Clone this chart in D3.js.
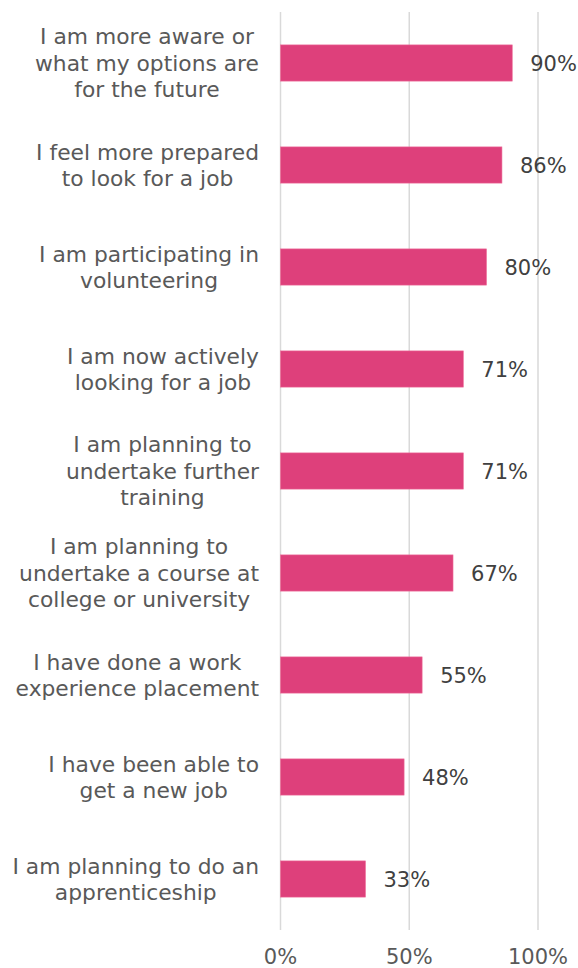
<!DOCTYPE html>
<html>
<head>
<meta charset="utf-8">
<script src="https://cdn.jsdelivr.net/npm/d3@7"></script>
<style>
  html, body { margin: 0; padding: 0; background: #fff; }
  svg { display: block; }
</style>
</head>
<body>
<svg id="chart" width="578" height="968"></svg>
<script>
// Survey statements (each split into its wrapped lines) and share agreeing
const categories = [
  ["I am more aware or", "what my options are", "for the future"],
  ["I feel more prepared", "to look for a job"],
  ["I am participating in", "volunteering"],
  ["I am now actively", "looking for a job"],
  ["I am planning to", "undertake further", "training"],
  ["I am planning to", "undertake a course at", "college or university"],
  ["I have done a work", "experience placement"],
  ["I have been able to", "get a new job"],
  ["I am planning to do an", "apprenticeship"]
];
const values = [90, 86, 80, 71, 71, 67, 55, 48, 33];
const tickValues = [0, 50, 100];
const tickLabels = ["0%", "50%", "100%"];

const svg = d3.select("#chart");
const font = "'DejaVu Sans', Verdana, sans-serif";

const plot = { left: 280.5, right: 538, top: 12, bottom: 930 };

const x = d3.scaleLinear().domain([0, 100]).range([plot.left, plot.right]);
const y = d3.scaleBand()
  .domain(d3.range(categories.length))
  .range([plot.top, plot.bottom])
  .paddingInner(0.645)
  .paddingOuter(0.3225);

// vertical gridlines
svg.append("g")
  .selectAll("line")
  .data(tickValues)
  .join("line")
  .attr("x1", d => x(d)).attr("x2", d => x(d))
  .attr("y1", plot.top).attr("y2", plot.bottom)
  .attr("stroke", "#d9d9d9")
  .attr("stroke-width", 1.5);

// bars
svg.append("g")
  .selectAll("rect")
  .data(values)
  .join("rect")
  .attr("x", x(0))
  .attr("y", (d, i) => y(i))
  .attr("width", d => x(d) - x(0))
  .attr("height", y.bandwidth())
  .attr("fill", "#de407b")
  .attr("stroke", "#ee6f9a")
  .attr("stroke-width", 0.6);

// value labels
svg.append("g")
  .selectAll("text")
  .data(values)
  .join("text")
  .attr("x", d => x(d) + 18)
  .attr("y", (d, i) => y(i) + y.bandwidth() / 2)
  .attr("dy", "0.36em")
  .attr("font-family", font)
  .attr("font-size", 21)
  .attr("fill", "#404040")
  .text(d => d + "%");

// x-axis tick labels
svg.append("g")
  .selectAll("text")
  .data(tickValues)
  .join("text")
  .attr("x", d => x(d))
  .attr("y", 964)
  .attr("text-anchor", "middle")
  .attr("font-family", font)
  .attr("font-size", 21)
  .attr("fill", "#595959")
  .text((d, i) => tickLabels[i]);

// category labels: block right-aligned to the axis, lines centred within block
const lineH = 26.5;
const labelRight = 259;
const catG = svg.append("g");
categories.forEach((lines, i) => {
  const g = catG.append("g");
  const cy = y(i) + y.bandwidth() / 2;
  const texts = lines.map((s, k) =>
    g.append("text")
      .attr("y", cy + (k - (lines.length - 1) / 2) * lineH)
      .attr("dy", "0.36em")
      .attr("text-anchor", "middle")
      .attr("font-family", font)
      .attr("font-size", 21.8)
      .attr("fill", "#595959")
      .text(s)
  );
  const maxW = d3.max(texts, t => t.node().getComputedTextLength());
  texts.forEach(t => t.attr("x", labelRight - maxW / 2));
});
</script>
</body>
</html>
